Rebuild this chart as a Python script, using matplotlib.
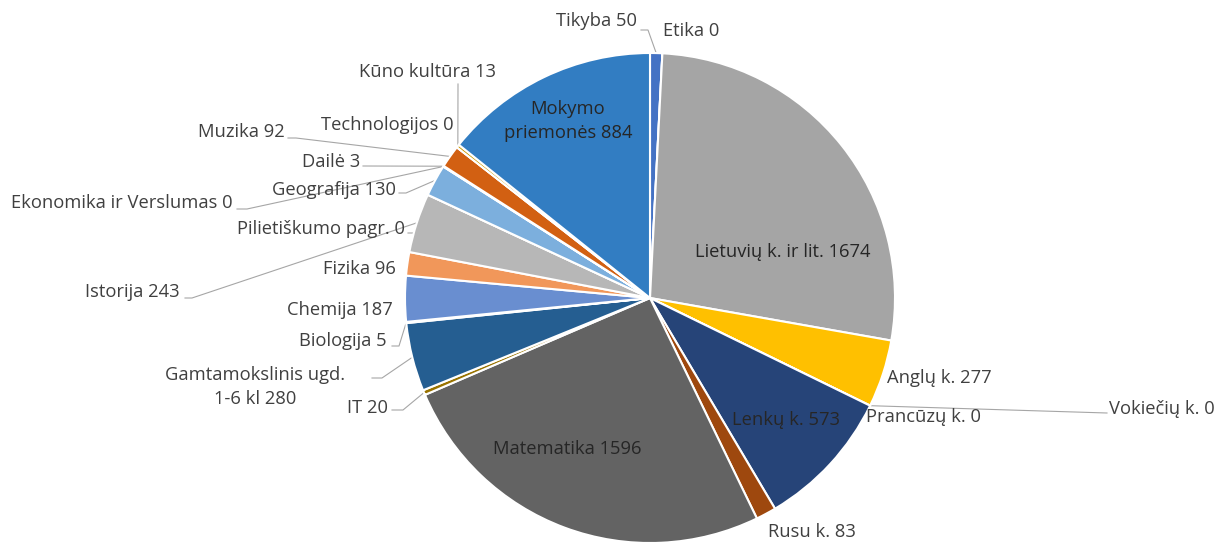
import matplotlib
matplotlib.use('Agg')
import matplotlib.pyplot as plt
import numpy as np

# ── Data ───────────────────────────────────────────────────────────────────────
subjects = [
    'Tikyba', 'Etika', 'Lietuvių k. ir lit.', 'Anglų k.', 'Vokiečių k.',
    'Prancūzų k.', 'Lenkų k.', 'Rusu k.', 'Matematika', 'IT',
    'Gamtamokslinis ugd.\n1-6 kl', 'Biologija', 'Chemija', 'Fizika', 'Istorija',
    'Pilietiškumo pagr.', 'Geografija', 'Ekonomika ir Verslumas', 'Dailė',
    'Muzika', 'Technologijos', 'Kūno kultūra', 'Mokymo\npriemonės',
]
counts = [50, 0, 1674, 277, 0, 0, 573, 83, 1596, 20, 280, 5, 187, 96, 243,
          0, 130, 0, 3, 92, 0, 13, 884]

colors = [
    '#4472C4', '#ED7D31', '#A5A5A5', '#FFC000', '#5B9BD5', '#70AD47',
    '#264478', '#9E480E', '#636363', '#997300', '#255E91', '#43682B',
    '#698ED0', '#F1975A', '#B7B7B7', '#FFCD33', '#7CAFDD', '#8CC168',
    '#335AA1', '#D26012', '#848484', '#CC9A00', '#327DC2',
]

# ── Layout (image pixel coords, y downwards) ───────────────────────────────────
W, H = 1220, 542
CX, CY, R = 650, 298, 245

# label: (x, y, ha, leader points from label towards slice or None)
LABEL_POS = {
    'Tikyba':               (637, 21, 'right', [(641, 30), (648, 30)]),
    'Etika':                (663, 31, 'left', None),
    'Lietuvių k. ir lit.':  (783, 252, 'center', None),
    'Anglų k.':             (887, 378, 'left', None),
    'Vokiečių k.':          (1109, 409, 'left', [(1107, 413)]),
    'Prancūzų k.':          (866, 417, 'left', None),
    'Lenkų k.':             (786, 420, 'center', None),
    'Rusu k.':              (768, 532, 'left', None),
    'Matematika':           (567, 449, 'center', None),
    'IT':                   (388, 408, 'right', [(392, 410), (403, 410)]),
    'Gamtamokslinis ugd.\n1-6 kl': (255, 387, 'center', [(372, 378), (382, 378)]),
    'Biologija':            (387, 341, 'right', [(392, 346), (399, 346)]),
    'Chemija':              (393, 310, 'right', None),
    'Fizika':               (396, 269, 'right', None),
    'Istorija':             (180, 292, 'right', [(185, 298), (192, 298)]),
    'Pilietiškumo pagr.':   (405, 229, 'right', [(408, 233), (414, 233)]),
    'Geografija':           (396, 190, 'right', [(399, 193), (406, 193)]),
    'Ekonomika ir Verslumas': (233, 203, 'right', [(237, 209), (247, 209)]),
    'Dailė':                (360, 162, 'right', [(363, 166)]),
    'Muzika':               (285, 132, 'right', [(288, 138), (296, 138)]),
    'Technologijos':        (454, 125, 'right', None),
    'Kūno kultūra':         (496, 72, 'right', [(458, 84)]),
    'Mokymo\npriemonės':    (568, 121, 'center', None),
}

plt.rcParams['font.family'] = ['Open Sans', 'DejaVu Sans']

fig = plt.figure(figsize=(W / 100, H / 100), dpi=100)
ax = fig.add_axes([0, 0, 1, 1])


def to_data(x, y):
    return x, H - y


wedges, _ = ax.pie(counts, colors=colors, startangle=90, counterclock=False,
                   center=to_data(CX, CY), radius=R,
                   wedgeprops=dict(edgecolor='white', linewidth=1.5))
for w in wedges:
    w.set_zorder(2)

ax.set_xlim(0, W)
ax.set_ylim(0, H)
ax.set_aspect('equal')
ax.axis('off')

total = sum(counts)
cum = np.cumsum([0] + counts[:-1])

for name, val, c0 in zip(subjects, counts, cum):
    x, y, ha, leader = LABEL_POS[name]
    inside = leader is None and ha == 'center'
    ax.text(*to_data(x, y), f'{name} {val}', ha=ha, va='center',
            fontsize=13.2, color='#262626' if inside else '#404040',
            linespacing=1.45, zorder=5)
    if leader:
        frac = (c0 + val / 2) / total
        ang = np.deg2rad(90 - 360 * frac)
        ex, ey = CX + R * np.cos(ang), CY - R * np.sin(ang)
        pts = [to_data(px, py) for px, py in leader] + [to_data(ex, ey)]
        xs, ys = zip(*pts)
        ax.plot(xs, ys, color='#a6a6a6', linewidth=0.8, zorder=1)

fig.savefig('out.png', dpi=100)
